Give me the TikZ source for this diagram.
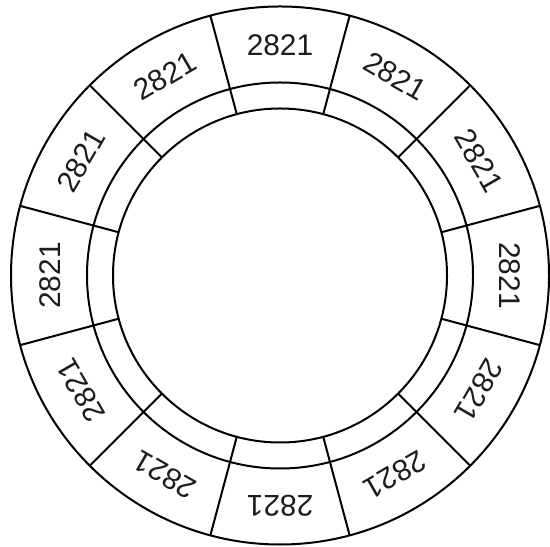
\documentclass[tikz,border=0pt]{standalone}
\usepackage{fontspec}
\setmainfont{Liberation Sans}
\usepackage{tikz}
\usetikzlibrary{calc}

\begin{document}
\begin{tikzpicture}[x=1bp,y=1bp]
            \definecolor{ringcolor}{HTML}{000000}
            \definecolor{labelcolor}{HTML}{1C1C1C}
            \useasboundingbox (0,0) rectangle (550,547);
            \coordinate (ctr) at (280,271.5);
            % three rings
            \draw[ringcolor,line width=2bp] (ctr) circle (269bp);
            \draw[ringcolor,line width=2bp] (ctr) circle (193bp);
            \draw[ringcolor,line width=2bp] (ctr) circle (167bp);
            % twelve sectors with their labels
            \foreach \k in {0,...,11} {
                \draw[ringcolor,line width=2bp]
                    ($(ctr)+(15+30*\k:167)$) -- ($(ctr)+(15+30*\k:269)$);
                \node[labelcolor,inner sep=0pt,rotate=30*\k,
                      font=\fontsize{30}{36}\selectfont]
                    (lbl\k) at ($(ctr)+(90+30*\k:230)$) {2821};
            }
        \end{tikzpicture}
\end{document}
